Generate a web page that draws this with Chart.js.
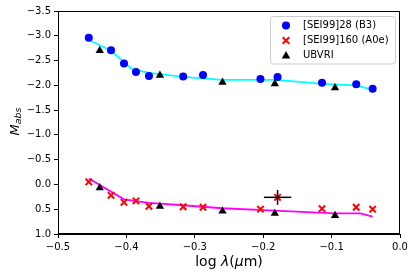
<!DOCTYPE html>
<html>
<head>
<meta charset="utf-8">
<script src="https://cdn.jsdelivr.net/npm/chart.js@4"></script>
<style>
  body { margin: 0; background: #fff; }
  #wrap { position: relative; width: 416px; height: 277px; }
</style>
</head>
<body>
<div id="wrap"><canvas id="myChart" width="416" height="277"></canvas></div>
<script>
// observed points (log lambda, M_abs)
const obsX = [-0.455, -0.4225, -0.4035, -0.386, -0.367, -0.317, -0.288, -0.204, -0.179, -0.114, -0.064, -0.040];
const b3Y = [-2.96, -2.71, -2.44, -2.27, -2.19, -2.18, -2.21, -2.13, -2.17, -2.05, -2.02, -1.93];
const a0eY = [-0.05, 0.22, 0.36, 0.33, 0.44, 0.45, 0.46, 0.50, 0.26, 0.49, 0.46, 0.50];

// UBVRI photometry
const ubvriX = [-0.439, -0.351, -0.2595, -0.183, -0.095];
const ubvriB3 = [-2.70, -2.20, -2.06, -2.03, -1.95];
const ubvriA0e = [0.07, 0.44, 0.54, 0.585, 0.63];

// model curves
const cyanX = [-0.455, -0.4225, -0.392, -0.367, -0.317, -0.26, -0.18, -0.114, -0.064, -0.040];
const cyanY = [-2.92, -2.70, -2.33, -2.25, -2.17, -2.11, -2.11, -2.03, -2.00, -1.91];
const magX = [-0.455, -0.4035, -0.367, -0.317, -0.26, -0.183, -0.095, -0.058, -0.040];
const magY = [-0.12, 0.30, 0.37, 0.42, 0.48, 0.53, 0.585, 0.585, 0.65];

// error bar on one A0e point
const errIdx = 8;
const errX = 0.02;
const errY = 0.15;

const xTicks = [-0.5, -0.4, -0.3, -0.2, -0.1, 0.0];
const yTicks = [-3.5, -3.0, -2.5, -2.0, -1.5, -1.0, -0.5, 0.0, 0.5, 1.0];

const pts = (xs, ys) => xs.map((x, i) => ({ x: x, y: ys[i] }));
const fmt = v => (Math.abs(v) < 1e-9 ? 0 : v).toFixed(1).replace('-', '\u2212');

const ex = obsX[errIdx], ey = a0eY[errIdx];

const legendItems = [
  { label: '[SEI99]28 (B3)', style: 'circle', color: '#0000ff' },
  { label: '[SEI99]160 (A0e)', style: 'cross', color: '#ff0000' },
  { label: 'UBVRI', style: 'triangle', color: '#000000' }
];

function marker(ctx, style, color, x, y) {
  ctx.save();
  ctx.fillStyle = color;
  ctx.strokeStyle = color;
  if (style === 'circle') {
    ctx.beginPath();
    ctx.arc(x, y, 4, 0, Math.PI * 2);
    ctx.fill();
  } else if (style === 'cross') {
    ctx.lineWidth = 2;
    ctx.beginPath();
    ctx.moveTo(x - 3.3, y - 3.3); ctx.lineTo(x + 3.3, y + 3.3);
    ctx.moveTo(x + 3.3, y - 3.3); ctx.lineTo(x - 3.3, y + 3.3);
    ctx.stroke();
  } else {
    ctx.beginPath();
    ctx.moveTo(x, y - 4.5); ctx.lineTo(x + 4.2, y + 3); ctx.lineTo(x - 4.2, y + 3);
    ctx.closePath();
    ctx.fill();
  }
  ctx.restore();
}

const decor = {
  id: 'decor',
  afterDraw(chart) {
    const ctx = chart.ctx;
    const a = chart.chartArea;
    ctx.save();
    // frame
    ctx.strokeStyle = '#000';
    ctx.lineWidth = 1;
    ctx.strokeRect(a.left + 0.5, a.top + 0.5, a.right - a.left - 1, a.bottom - a.top - 1);

    // x title: log λ(μm)
    const parts = [['log ', ''], ['\u03bb', 'italic '], ['(', ''], ['\u03bc', 'italic '], ['m)', '']];
    let w = 0;
    parts.forEach(p => { ctx.font = p[1] + '14px "DejaVu Sans"'; w += ctx.measureText(p[0]).width; });
    let x = (a.left + a.right) / 2 - w / 2;
    ctx.fillStyle = '#000';
    ctx.textBaseline = 'alphabetic';
    ctx.textAlign = 'left';
    parts.forEach(p => {
      ctx.font = p[1] + '14px "DejaVu Sans"';
      ctx.fillText(p[0], x, 266);
      x += ctx.measureText(p[0]).width;
    });

    // y title: M_abs
    ctx.save();
    const cy = (a.top + a.bottom) / 2 - 1;
    ctx.font = 'italic 13px "DejaVu Sans"';
    const mw = ctx.measureText('M').width;
    ctx.font = 'italic 9.5px "DejaVu Sans"';
    const sw = ctx.measureText('abs').width;
    ctx.translate(19, cy + (mw + sw) / 2);
    ctx.rotate(-Math.PI / 2);
    ctx.font = 'italic 13px "DejaVu Sans"';
    ctx.fillText('M', 0, 0);
    ctx.font = 'italic 9.5px "DejaVu Sans"';
    ctx.fillText('abs', mw, 2);
    ctx.restore();

    // legend
    const lx = 270.5, ly = 16.5, lw = 125, lh = 47.5;
    ctx.beginPath();
    ctx.roundRect(lx, ly, lw, lh, 3);
    ctx.fillStyle = 'rgba(255,255,255,0.8)';
    ctx.fill();
    ctx.strokeStyle = '#cccccc';
    ctx.stroke();
    ctx.font = '10px "DejaVu Sans"';
    ctx.textBaseline = 'middle';
    legendItems.forEach((it, i) => {
      const ry = 25.5 + i * 15;
      marker(ctx, it.style, it.color, 286, ry);
      ctx.fillStyle = '#000';
      ctx.fillText(it.label, 303, ry);
    });
    ctx.restore();
  }
};

const ctx = document.getElementById('myChart').getContext('2d');
const myChart = new Chart(ctx, {
  type: 'scatter',
  data: {
    datasets: [
      {
        label: 'model B3', data: pts(cyanX, cyanY), showLine: true,
        borderColor: '#00ffff', borderWidth: 1.8, pointRadius: 0, order: 5
      },
      {
        label: 'model A0e', data: pts(magX, magY), showLine: true,
        borderColor: '#ff00ff', borderWidth: 1.8, pointRadius: 0, order: 5
      },
      {
        label: '[SEI99]28 (B3)', data: pts(obsX, b3Y), pointStyle: 'circle',
        pointRadius: 4, backgroundColor: '#0000ff', borderWidth: 0, order: 2
      },
      {
        label: '[SEI99]160 (A0e)', data: pts(obsX, a0eY), pointStyle: 'crossRot',
        pointRadius: 4.5, borderColor: '#ff0000', borderWidth: 2, order: 2
      },
      {
        label: 'UBVRI', data: pts(ubvriX, ubvriB3), pointStyle: 'triangle',
        pointRadius: 4.8, backgroundColor: '#000', borderWidth: 0, order: 1
      },
      {
        label: 'UBVRI', data: pts(ubvriX, ubvriA0e), pointStyle: 'triangle',
        pointRadius: 4.8, backgroundColor: '#000', borderWidth: 0, order: 1
      },
      {
        label: 'xerr', data: [{ x: ex - errX, y: ey }, { x: ex + errX, y: ey }], showLine: true,
        borderColor: '#000', borderWidth: 1.5, pointRadius: 0, order: 0
      },
      {
        label: 'yerr', data: [{ x: ex, y: ey - errY }, { x: ex, y: ey + errY }], showLine: true,
        borderColor: '#000', borderWidth: 1.5, pointRadius: 0, order: 0
      }
    ]
  },
  options: {
    responsive: false,
    animation: false,
    devicePixelRatio: 1,
    layout: { padding: { left: 0, right: 16, top: 11, bottom: 0 } },
    plugins: { legend: { display: false }, tooltip: { enabled: false } },
    scales: {
      x: {
        type: 'linear', min: -0.5, max: 0.0,
        afterFit: s => { s.height = 43; },
        afterBuildTicks: s => { s.ticks = xTicks.map(v => ({ value: v })); },
        grid: { drawOnChartArea: false, drawTicks: true, tickLength: 4, color: '#000' },
        border: { display: true, color: '#000' },
        ticks: { color: '#000', font: { family: 'DejaVu Sans', size: 10 }, padding: 3, maxRotation: 0, callback: v => fmt(v) }
      },
      y: {
        type: 'linear', min: -3.5, max: 1.0, reverse: true,
        afterFit: s => { s.width = 58; },
        afterBuildTicks: s => { s.ticks = yTicks.map(v => ({ value: v })); },
        grid: { drawOnChartArea: false, drawTicks: true, tickLength: 4, color: '#000' },
        border: { display: true, color: '#000' },
        ticks: { color: '#000', font: { family: 'DejaVu Sans', size: 10 }, padding: 3, callback: v => fmt(v) }
      }
    }
  },
  plugins: [decor]
});
</script>
</body>
</html>
